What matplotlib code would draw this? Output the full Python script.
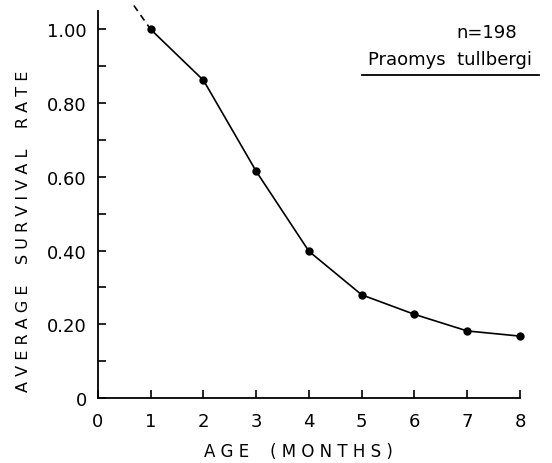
import numpy as np
import matplotlib.pyplot as plt
from matplotlib.ticker import MultipleLocator

# survival data
age = [1, 2, 3, 4, 5, 6, 7, 8]
survival = [1.00, 0.862, 0.615, 0.398, 0.280, 0.227, 0.182, 0.168]

# dashed extrapolation before first month
dash_x = [0.68, 1.0]
dash_y = [1.065, 1.00]

yticks = [0, 0.2, 0.4, 0.6, 0.8, 1.0]
ytick_labels = ['0', '0.20', '0.40', '0.60', '0.80', '1.00']
xticks = [0, 1, 2, 3, 4, 5, 6, 7, 8]

plt.rcParams['font.family'] = ['DejaVu Sans']

fig = plt.figure(figsize=(5.52, 4.64), dpi=100)
ax = fig.add_axes([0.1775, 0.140, 0.7645, 0.846])

ax.plot(age, survival, color='black', lw=1.2, marker='o', markersize=5, clip_on=False, zorder=3)
ax.plot(dash_x, dash_y, color='black', lw=1.2, ls=(0, (4, 3)), clip_on=False)

ax.set_xlim(0, 8)
ax.set_ylim(0, 1.065)
ax.spines['top'].set_visible(False)
ax.spines['right'].set_visible(False)
ax.spines['left'].set_bounds(0, 1.05)
ax.spines['left'].set_linewidth(1.3)
ax.spines['bottom'].set_linewidth(1.3)

ax.set_yticks(yticks)
ax.set_yticklabels(ytick_labels)
ax.yaxis.set_minor_locator(MultipleLocator(0.1))
ax.set_xticks(xticks)
ax.tick_params(axis='both', which='both', direction='in', width=1.2, length=6,
               labelsize=13, pad=8)
ax.tick_params(axis='x', pad=10)

ax.set_ylabel('A V E R A G E    S U R V I V A L    R A T E', fontsize=11.5)
ax.yaxis.set_label_coords(-0.158, 0.428)
ax.set_xlabel('A G E    ( M O N T H S )', fontsize=12)
ax.xaxis.set_label_coords(0.476, -0.112)

ax.text(0.921, 0.932, 'n=198', transform=ax.transAxes, ha='center', va='center', fontsize=13)
ax.text(0.835, 0.864, 'Praomys  tullbergi', transform=ax.transAxes, ha='center', va='center', fontsize=13)
ax.plot([0.626, 1.045], [0.823, 0.823], transform=ax.transAxes, color='black', lw=1.3, clip_on=False)

fig.savefig('out.png', dpi=100)
